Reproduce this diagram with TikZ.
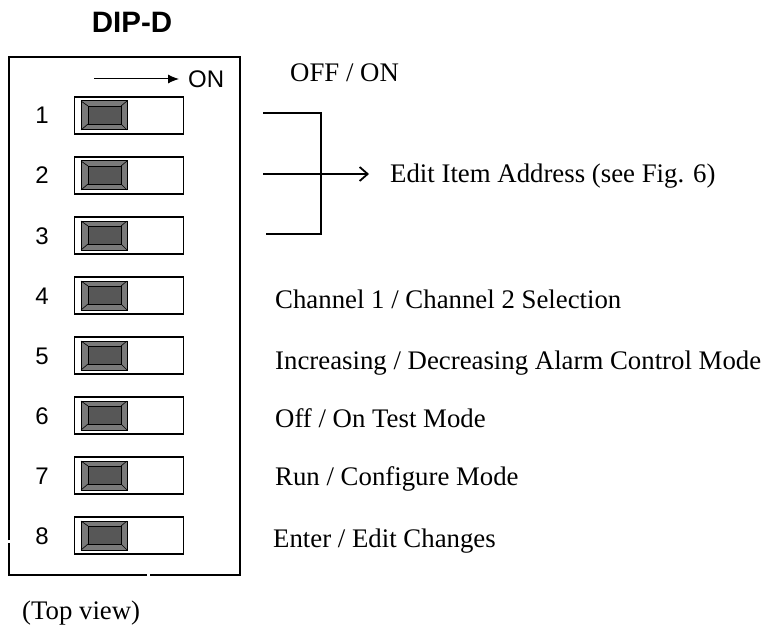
\documentclass[tikz,border=0pt]{standalone}
\usepackage{fontspec}
\setmainfont{Liberation Serif}
\newfontfamily\arialf{Liberation Sans}
\usetikzlibrary{arrows.meta}
\begin{document}
\begin{tikzpicture}[x=1pt,y=-1pt,
  lbl/.style={font=\fontsize{26.8}{30}\selectfont, anchor=base west, inner sep=0},
  num/.style={font=\arialf\fontsize{24}{26}\selectfont, inner sep=0, anchor=base},
  swbox/.style={draw, line width=1.4pt, minimum width=109pt, minimum height=37pt, inner sep=0, anchor=west},
  knob/.style={draw, line width=0.6pt, fill=black!66},
  brk/.style={line width=1.8pt},
]
\useasboundingbox (0,0) rectangle (767,628);
% title
\node[font=\arialf\bfseries\fontsize{29.5}{32}\selectfont, inner sep=0, anchor=base] (title) at (132,33) {DIP-D};
% housing (with the small gaps of the original)
\draw[line width=1.4pt] (9,540) -- (9,57) -- (240,57) -- (240,575) -- (150,575);
\draw[line width=1.4pt] (147,575) -- (9,575) -- (9,543);
% ON arrow
\coordinate (onA) at (94,79);
\coordinate (onB) at (179,79);
\draw[line width=1pt, -{Latex[length=11pt,width=9pt]}] (onA) -- (onB);
\node[font=\arialf\fontsize{24}{26}\selectfont, inner sep=0, anchor=base west] (on) at (188,88) {ON};
% switches
\foreach \i in {1,...,8} {
  \pgfmathsetmacro\yy{115.5+60*(\i-1)}
  \node[num] (n\i) at (42,\yy+8.5) {\i};
  \node[swbox] (s\i) at (74,\yy) {};
  \fill[black!52] (81,\yy-14.5) rectangle (127,\yy+14.5);
  \draw[line width=0.6pt] (81,\yy-14.5) -- (88,\yy-9.5) (127,\yy-14.5) -- (121,\yy-9.5)
                          (81,\yy+14.5) -- (88,\yy+8.5) (127,\yy+14.5) -- (121,\yy+8.5);
  \draw[line width=1pt] (81,\yy-14.5) rectangle (127,\yy+14.5);
  \draw[knob] (88,\yy-9.5) rectangle (121,\yy+8.5);
}
% bracket for switches 1-3
\coordinate (b1) at (263,113);
\coordinate (b2) at (263,174);
\coordinate (b3) at (266,234);
\coordinate (bt) at (321,113);
\coordinate (bb) at (321,234);
\coordinate (bm) at (369,174);
\draw[brk] (b1) -- (bt) -- (bb) -- (b3);
\draw[brk, -{Straight Barb[length=8pt,width=14pt]}] (b2) -- (bm);
% labels
\node[lbl] (t0) at (290,82) {OFF / ON};
\node[lbl] (t1) at (390,183) {Edit Item Address (see Fig. 6)};
\node[lbl] (t4) at (275,308) {Channel 1 / Channel 2 Selection};
\node[lbl] (t5) at (275,369) {Increasing / Decreasing Alarm Control Mode};
\node[lbl] (t6) at (275,427) {Off / On Test Mode};
\node[lbl] (t7) at (275,485) {Run / Configure Mode};
\node[lbl] (t8) at (273,547) {Enter / Edit Changes};
\node[lbl] (tv) at (22,619) {(Top view)};
\end{tikzpicture}
\end{document}
